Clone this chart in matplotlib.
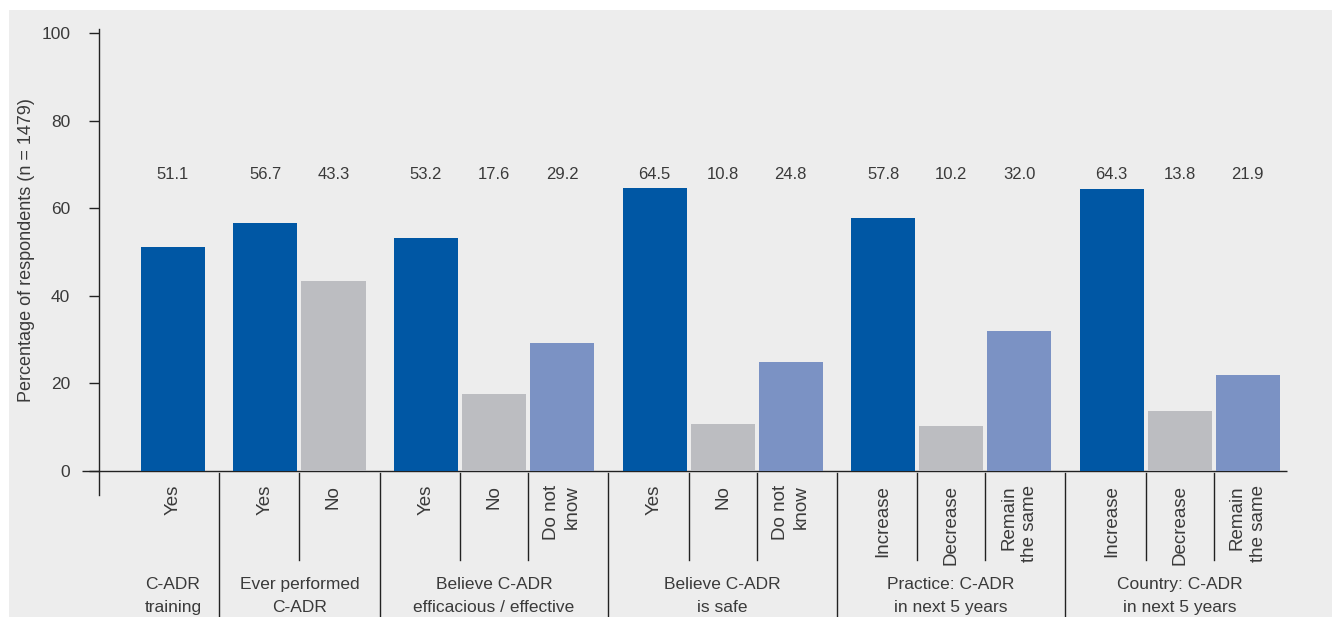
import matplotlib
matplotlib.use("Agg")
import matplotlib.pyplot as plt
from matplotlib.patches import Rectangle
import matplotlib.transforms as mtransforms

plt.rcParams['font.family'] = ['Liberation Sans Narrow', 'Liberation Sans', 'DejaVu Sans']

# ---- data ----
group_labels = ["C-ADR\ntraining", "Ever performed\nC-ADR", "Believe C-ADR\nefficacious / effective",
                "Believe C-ADR\nis safe", "Practice: C-ADR\nin next 5 years", "Country: C-ADR\nin next 5 years"]
group_categories = [["Yes"], ["Yes", "No"], ["Yes", "No", "Do not\nknow"], ["Yes", "No", "Do not\nknow"],
                    ["Increase", "Decrease", "Remain\nthe same"], ["Increase", "Decrease", "Remain\nthe same"]]
group_values = [[51.1], [56.7, 43.3], [53.2, 17.6, 29.2], [64.5, 10.8, 24.8],
                [57.8, 10.2, 32.0], [64.3, 13.8, 21.9]]
y_ticks = [0, 20, 40, 60, 80, 100]
y_label = "Percentage of respondents (n = 1479)"

# ---- style ----
colors = ["#0057a4", "#bcbdc1", "#7b92c4"]
text_color = "#3a3a3a"
line_color = "#222222"
bg = "#ededed"
W, H = 1340, 617

fig = plt.figure(figsize=(W / 100, H / 100), dpi=100)
fig.patch.set_facecolor("white")
fig.patches.append(Rectangle((9 / W, 0), (1332 - 9) / W, (H - 10) / H, transform=fig.transFigure,
                             facecolor=bg, edgecolor="none", zorder=-5))

ax = fig.add_axes([99 / W, (H - 471) / H, (1287 - 99) / W, (471 - 33) / H])
ax.set_zorder(2)
ax.set_facecolor("none")
for s in ax.spines.values():
    s.set_visible(False)

gap = 0.36
positions = []
pos = 0.0
group_pos = []
for cats in group_categories:
    gp = []
    for _ in cats:
        gp.append(pos)
        pos += 1
    group_pos.append(gp)
    positions.extend(gp)
    pos += gap

ax.set_xlim(-1.088, positions[-1] + 0.58)
ax.set_ylim(0, 100)

# bars
for gp, vals in zip(group_pos, group_values):
    for j, (x, v) in enumerate(zip(gp, vals)):
        ax.bar(x, v, width=64 / 68, color=colors[j], zorder=3)
        ax.text(x, 67.6, f"{v:.1f}", ha="center", va="center", fontsize=12, color=text_color)

# baseline
ax.plot([-1.338, positions[-1] + 0.58], [0, 0], color=line_color, lw=1.0, clip_on=False, zorder=2,
        solid_capstyle="butt")

# y axis line
trans = mtransforms.blended_transform_factory(ax.transAxes, ax.transData)
ax.plot([0, 0], [-5.5, 100.8], color=line_color, lw=1.0, transform=trans, clip_on=False, zorder=2)
ax.set_yticks(y_ticks)
ax.set_yticklabels([str(t) for t in y_ticks])
ax.tick_params(axis="y", direction="out", length=7.2, width=1.0, color=line_color, pad=13.5,
               labelsize=12.5, labelcolor=text_color)
ax.set_xticks([])

# category labels and separators
for gi, (gp, cats) in enumerate(zip(group_pos, group_categories)):
    for x, c in zip(gp, cats):
        ax.text(x, -3.2, c, rotation=90, ha="center", va="top", multialignment="right",
                fontsize=13.5, color=text_color, linespacing=1.3)
    for a, b in zip(gp[:-1], gp[1:]):
        ax.plot([(a + b) / 2] * 2, [-0.5, -20.3], color=line_color, lw=1.0, clip_on=False)
    if gi < len(group_pos) - 1:
        xs = (gp[-1] + group_pos[gi + 1][0]) / 2
        ax.plot([xs] * 2, [-0.5, -40], color=line_color, lw=1.0, clip_on=False)
    cx = (gp[0] + gp[-1]) / 2
    ax.text(cx, -24.2, group_labels[gi], ha="center", va="top", fontsize=12.5, color=text_color,
            linespacing=1.65)

fig.text(27 / W, 1 - 250 / H, y_label, rotation=90, ha="center", va="center", fontsize=13,
         color=text_color)

fig.savefig("out.png", dpi=100)
